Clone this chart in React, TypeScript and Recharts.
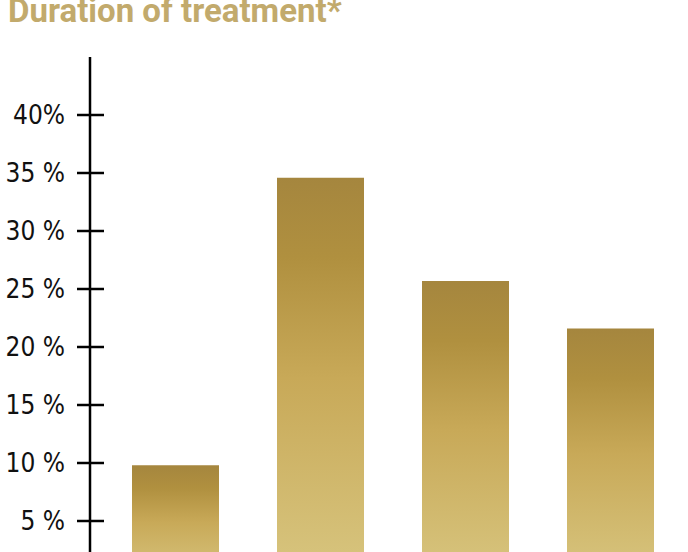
import { BarChart, Bar, XAxis, YAxis } from "recharts";

const categories = ["A", "B", "C", "D"];
const shares = [9.8, 34.6, 25.7, 21.6];
const yTicks = [5, 10, 15, 20, 25, 30, 35, 40];
const yTickLabels = ["5 %", "10 %", "15 %", "20 %", "25 %", "30 %", "35 %", "40%"];

const data = categories.map((c, i) => ({ name: c, value: shares[i] }));

const PercentTick = (props: any) => {
  const { x, y, payload } = props;
  const idx = yTicks.indexOf(payload.value);
  return (
    <g>
      <line x1={x - 13} x2={x + 14} y1={y} y2={y} stroke="#000" strokeWidth={2.5} />
      <text
        x={x - 25}
        y={y}
        textAnchor="end"
        dominantBaseline="central"
        fill="#111"
        fontSize={26}
        style={{ fontFamily: "'DejaVu Sans Condensed', 'DejaVu Sans', sans-serif", fontStretch: "condensed" }}
      >
        {yTickLabels[idx]}
      </text>
    </g>
  );
};

export default function App() {
  return (
    <div style={{ position: "fixed", top: 0, left: 0, width: 688, height: 552, overflow: "hidden", background: "#fff" }}>
      <div
        style={{
          position: "absolute",
          left: 8,
          top: -4,
          fontFamily: "Roboto, 'Open Sans', sans-serif",
          fontWeight: 700,
          fontSize: 33,
          lineHeight: "30px",
          color: "#c2aa6c",
          whiteSpace: "nowrap",
        }}
      >
        Duration of treatment*
      </div>
      <BarChart
        width={688}
        height={590}
        data={data}
        margin={{ top: 57, right: 5, bottom: 11, left: 0 }}
        barCategoryGap="20%"
      >
        <defs>
          <linearGradient id="goldBar" x1="0" y1="0" x2="0" y2="1">
            <stop offset="0%" stopColor="#a5863e" />
            <stop offset="20%" stopColor="#b0903f" />
            <stop offset="50%" stopColor="#c8a958" />
            <stop offset="100%" stopColor="#d8c680" />
          </linearGradient>
        </defs>
        <XAxis dataKey="name" hide padding={{ left: 13, right: 0 }} />
        <YAxis
          width={90}
          domain={[0, 45]}
          ticks={yTicks}
          interval={0}
          tickSize={0}
          tickMargin={0}
          tickLine={false}
          axisLine={{ stroke: "#000", strokeWidth: 2.5 }}
          tick={<PercentTick />}
        />
        <Bar dataKey="value" fill="url(#goldBar)" isAnimationActive={false} />
      </BarChart>
    </div>
  );
}
